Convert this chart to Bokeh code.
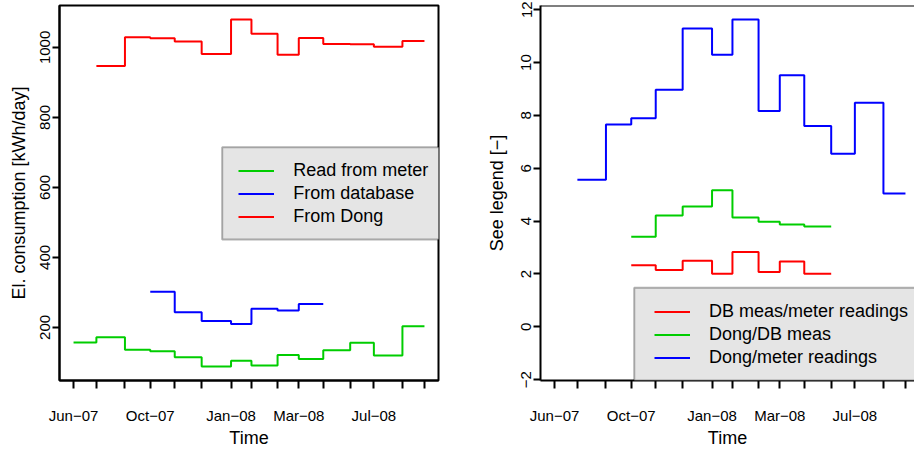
import numpy as np
from bokeh.plotting import figure
from bokeh.layouts import row
from bokeh.models import (FixedTicker, CustomJSTickFormatter, Range1d, Legend,
                          LegendItem, BoxAnnotation, Span)
from bokeh.embed import file_html
from bokeh.resources import INLINE

# ---------------- data ----------------
reading_dates = ["2007-06-29", "2007-07-27", "2007-08-31", "2007-10-01", "2007-10-31",
                 "2007-12-03", "2008-01-08", "2008-02-02", "2008-03-05", "2008-03-31",
                 "2008-04-30", "2008-06-02", "2008-07-01", "2008-08-05", "2008-09-01"]
tick_labels = ["Jun\u221207", "", "", "Oct\u221207", "", "", "Jan\u221208", "", "",
               "Mar\u221208", "", "", "Jul\u221208", "", ""]

# left panel: El. consumption [kWh/day], one value per period starting at a reading date
meter_start = 0
meter = [157, 172, 136, 132, 115, 88, 105, 91, 121, 110, 135, 156, 120, 203]
database_start = 3
database = [302, 243, 218, 210, 253, 248, 267]
dong_start = 1
dong = [947, 1029, 1026, 1017, 981, 1080, 1039, 979, 1027, 1010, 1009, 1002, 1018]

# right panel: ratios
db_meter_start = 3
db_meter = [2.33, 2.15, 2.50, 2.01, 2.83, 2.08, 2.47, 2.01]
dong_db_start = 3
dong_db = [3.41, 4.21, 4.55, 5.17, 4.14, 3.98, 3.87, 3.80]
dong_meter_start = 1
dong_meter = [5.57, 7.66, 7.89, 8.97, 11.29, 10.30, 11.63, 8.17, 9.52, 7.60, 6.55, 8.48, 5.05]

left_yticks = [200, 400, 600, 800, 1000]
right_yticks = [-2, 0, 2, 4, 6, 8, 10, 12]
right_ylim = (-2.03, 12.16)

RED, GREEN, BLUE = "#FF0000", "#00CD00", "#0000FF"
FONT = "Liberation Sans"

# ---------------- geometry ----------------
x_ms = np.array(reading_dates, dtype="datetime64[ms]").astype("int64").astype(float)
span = x_ms[-1] - x_ms[0]
x0 = x_ms[0] - 0.04 * span
x1 = x_ms[-1] + 0.04 * span

FW = 379.0   # full frame width (px) in the reference
FH = 375.0


def step_xy(start, vals):
    xs = list(x_ms[start:start + len(vals) + 1])
    ys = list(vals) + [vals[-1]]
    return xs, ys


def style(p, ylabel, yticks, title_standoff):
    p.xgrid.visible = False
    p.ygrid.visible = False
    p.background_fill_color = "white"
    p.border_fill_color = "white"
    xa = p.xaxis[0]
    xa.ticker = FixedTicker(ticks=list(x_ms), minor_ticks=[])
    xa.formatter = CustomJSTickFormatter(
        args=dict(tvals=list(x_ms), tlabels=tick_labels),
        code="const i = tvals.indexOf(tick); return i < 0 ? '' : tlabels[i];")
    ya = p.yaxis[0]
    ya.ticker = FixedTicker(ticks=yticks, minor_ticks=[])
    ya.formatter = CustomJSTickFormatter(
        code="return tick < 0 ? '\u2212' + Math.abs(tick) : String(tick);")
    for ax in (xa, ya):
        ax.axis_line_width = 2
        ax.axis_line_color = "black"
        ax.major_tick_line_width = 2
        ax.major_tick_line_color = "black"
        ax.major_tick_in = 0
        ax.minor_tick_line_color = None
        ax.major_label_text_font = FONT
        ax.major_label_text_font_size = "15px"
        ax.major_label_text_color = "black"
        ax.axis_label_text_font = FONT
        ax.axis_label_text_font_size = "18px"
        ax.axis_label_text_font_style = "normal"
        ax.axis_label_text_color = "black"
    xa.major_tick_out = 8
    xa.major_label_standoff = 18
    xa.axis_label = "Time"
    xa.axis_label_standoff = 1
    ya.major_tick_out = 7
    ya.major_label_orientation = "vertical"
    ya.major_label_standoff = 2
    ya.axis_label = ylabel
    ya.axis_label_standoff = title_standoff


def add_legend(p, xr, yr, frame_w, box_left_px, box_top_px, box_bottom_px,
               glyph_left_px, rows_top_px, items):
    def dx(px):
        return xr.start + px / frame_w * (xr.end - xr.start)

    def dy(px):
        return yr.end - px / FH * (yr.end - yr.start)

    box = BoxAnnotation(left=dx(box_left_px), right=xr.end + 0.05 * (xr.end - xr.start),
                        top=dy(box_top_px), bottom=dy(box_bottom_px),
                        fill_color="#E5E5E5", fill_alpha=1.0,
                        line_color="black", line_width=2)
    p.add_layout(box)
    leg = Legend(items=items, location=(glyph_left_px, FH - rows_top_px - 3 * 23),
                 orientation="vertical", glyph_width=36, glyph_height=23,
                 label_height=23, label_standoff=19, spacing=0, padding=0, margin=0,
                 label_text_font=FONT, label_text_font_size="18px",
                 label_text_color="black",
                 background_fill_alpha=0, border_line_alpha=0)
    p.add_layout(leg, "center")


# ---------------- left panel ----------------
all_left = meter + database + dong
lo, hi = min(all_left), max(all_left)
pad = 0.04 * (hi - lo)
xr1 = Range1d(x0, x1)
yr1 = Range1d(lo - pad, hi + pad)
p1 = figure(width=457, height=450, output_backend="svg", toolbar_location=None,
            x_range=xr1, y_range=yr1,
            min_border_left=59, min_border_right=19, min_border_top=5, min_border_bottom=70)
p1.outline_line_color = "black"
p1.outline_line_width = 2
style(p1, "El. consumption [kWh/day]", left_yticks, 9)

r_meter = p1.step(*step_xy(meter_start, meter), mode="after", line_color=GREEN, line_width=2)
r_db = p1.step(*step_xy(database_start, database), mode="after", line_color=BLUE, line_width=2)
r_dong = p1.step(*step_xy(dong_start, dong), mode="after", line_color=RED, line_width=2)

add_legend(p1, xr1, yr1, FW, 221.7 - 59, 146.7 - 5, 239 - 5, 238.3 - 59, 158.5 - 5,
           [LegendItem(label="Read from meter", renderers=[r_meter]),
            LegendItem(label="From database", renderers=[r_db]),
            LegendItem(label="From Dong", renderers=[r_dong])])

# ---------------- right panel ----------------
right_frame_w = 457 - 83
xr2 = Range1d(x0, x0 + (x1 - x0) * right_frame_w / FW)
yr2 = Range1d(*right_ylim)
p2 = figure(width=457, height=450, output_backend="svg", toolbar_location=None,
            x_range=xr2, y_range=yr2,
            min_border_left=83, min_border_right=0, min_border_top=5, min_border_bottom=70)
p2.outline_line_color = None
style(p2, "See legend [\u2212]", right_yticks, 12)
p2.add_layout(Span(location=right_ylim[1], dimension="width", line_color="black", line_width=2))

r_dbm = p2.step(*step_xy(db_meter_start, db_meter), mode="after", line_color=RED, line_width=2)
r_ddb = p2.step(*step_xy(dong_db_start, dong_db), mode="after", line_color=GREEN, line_width=2)
r_dm = p2.step(*step_xy(dong_meter_start, dong_meter), mode="after", line_color=BLUE, line_width=2)

add_legend(p2, xr2, yr2, FW, 635 - 540, 287.3 - 5, FH, 654 - 540, 300.2 - 5,
           [LegendItem(label="DB meas/meter readings", renderers=[r_dbm]),
            LegendItem(label="Dong/DB meas", renderers=[r_ddb]),
            LegendItem(label="Dong/meter readings", renderers=[r_dm])])

layout = row(p1, p2, spacing=0)
open("out.html", "w").write(file_html(layout, INLINE))
